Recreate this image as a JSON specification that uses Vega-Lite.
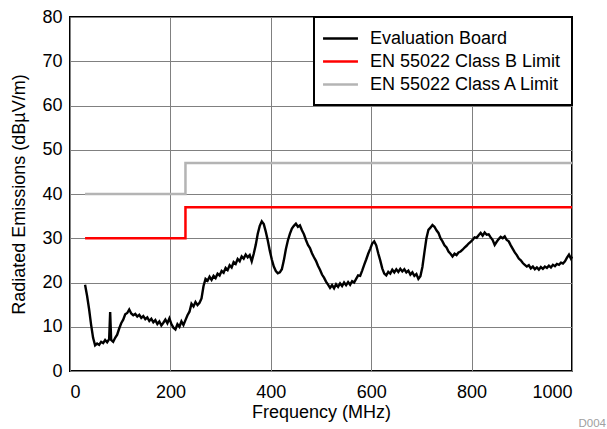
{
  "$schema": "https://vega.github.io/schema/vega-lite/v6.json",
  "width": 502,
  "height": 354,
  "autosize": {"type": "none"},
  "padding": {"left": 70, "top": 17, "right": 35, "bottom": 58},
  "background": "white",
  "config": {
    "font": "Liberation Sans",
    "view": {"stroke": "black", "strokeWidth": 2},
    "axis": {
      "labelFont": "Liberation Sans", "titleFont": "Liberation Sans",
      "labelFontSize": 18, "titleFontSize": 18, "titleFontWeight": "normal",
      "labelColor": "black", "titleColor": "black",
      "domain": false, "ticks": false,
      "gridColor": "#808080", "gridWidth": 1, "gridOpacity": 1
    },
    "legend": {"strokeWidth": 2}
  },
  "title": {"text": "D004", "orient": "bottom", "anchor": "end", "frame": "group", "fontSize": 11.5, "font": "Liberation Sans", "color": "#a0a0a0", "fontWeight": "normal", "dx": 34, "offset": -3},
  "datasets": {
    "board": [
      {"f":30,"v":19.5},{"f":34,"v":17},{"f":38,"v":14},{"f":42,"v":10.5},{"f":46,"v":7.5},{"f":50,"v":5.8},{"f":54,"v":6.2},{"f":58,"v":5.9},{"f":62,"v":6.6},{"f":66,"v":6.3},{"f":70,"v":7.0},{"f":74,"v":6.5},{"f":78,"v":7.2},{"f":80,"v":13.3},{"f":82,"v":7.0},{"f":86,"v":6.6},{"f":90,"v":7.5},{"f":94,"v":8.2},{"f":98,"v":9.6},
      {"f":102,"v":10.8},{"f":106,"v":11.6},{"f":110,"v":12.8},{"f":114,"v":13.1},{"f":118,"v":13.9},{"f":122,"v":13.0},{"f":126,"v":12.6},{"f":130,"v":12.9},{"f":134,"v":12.3},{"f":138,"v":12.7},{"f":142,"v":12.0},{"f":146,"v":12.4},{"f":150,"v":11.7},{"f":154,"v":12.1},{"f":158,"v":11.3},{"f":162,"v":11.8},{"f":166,"v":11.0},{"f":170,"v":11.5},{"f":174,"v":10.6},{"f":178,"v":11.2},{"f":182,"v":10.3},{"f":186,"v":10.9},{"f":190,"v":11.6},{"f":194,"v":10.8},{"f":198,"v":11.9},
      {"f":202,"v":10.6},{"f":206,"v":9.8},{"f":210,"v":9.4},{"f":214,"v":10.6},{"f":218,"v":10.0},{"f":222,"v":11.2},{"f":226,"v":10.4},{"f":230,"v":11.5},{"f":234,"v":12.6},{"f":238,"v":13.4},{"f":242,"v":15.2},{"f":246,"v":14.6},{"f":250,"v":15.6},{"f":254,"v":14.9},{"f":258,"v":15.4},{"f":262,"v":16.4},{"f":266,"v":19.2},{"f":270,"v":20.8},{"f":274,"v":20.4},{"f":278,"v":21.3},{"f":282,"v":20.6},{"f":286,"v":21.5},{"f":290,"v":21.0},{"f":294,"v":22.0},{"f":298,"v":21.6},
      {"f":302,"v":22.6},{"f":306,"v":22.2},{"f":310,"v":23.3},{"f":314,"v":22.8},{"f":318,"v":23.9},{"f":322,"v":23.4},{"f":326,"v":24.6},{"f":330,"v":24.2},{"f":334,"v":25.3},{"f":338,"v":24.8},{"f":342,"v":25.9},{"f":346,"v":25.4},{"f":350,"v":26.3},{"f":354,"v":25.7},{"f":358,"v":26.2},{"f":362,"v":24.8},{"f":366,"v":26.5},{"f":370,"v":28.5},{"f":374,"v":31.0},{"f":378,"v":32.8},{"f":382,"v":33.8},{"f":386,"v":33.2},{"f":390,"v":31.5},{"f":394,"v":29.5},{"f":398,"v":27.2},
      {"f":402,"v":25.2},{"f":406,"v":23.6},{"f":410,"v":22.6},{"f":414,"v":22.1},{"f":418,"v":22.3},{"f":422,"v":23.0},{"f":426,"v":25.0},{"f":430,"v":27.5},{"f":434,"v":29.5},{"f":438,"v":31.0},{"f":442,"v":32.2},{"f":446,"v":32.8},{"f":450,"v":33.3},{"f":454,"v":32.6},{"f":458,"v":32.9},{"f":462,"v":31.8},{"f":466,"v":30.9},{"f":470,"v":29.6},{"f":474,"v":28.5},{"f":478,"v":27.8},{"f":482,"v":26.6},{"f":486,"v":25.7},{"f":490,"v":24.9},{"f":494,"v":23.8},{"f":498,"v":22.9},
      {"f":502,"v":21.8},{"f":506,"v":21.1},{"f":510,"v":20.2},{"f":514,"v":19.5},{"f":518,"v":18.8},{"f":522,"v":19.4},{"f":526,"v":18.7},{"f":530,"v":19.6},{"f":534,"v":19.0},{"f":538,"v":19.8},{"f":542,"v":19.2},{"f":546,"v":20.0},{"f":550,"v":19.4},{"f":554,"v":20.1},{"f":558,"v":19.5},{"f":562,"v":20.3},{"f":566,"v":20.0},{"f":570,"v":20.8},{"f":574,"v":21.6},{"f":578,"v":21.5},{"f":582,"v":22.7},{"f":586,"v":24.0},{"f":590,"v":25.2},{"f":594,"v":26.5},{"f":598,"v":27.6},
      {"f":602,"v":28.8},{"f":606,"v":29.3},{"f":610,"v":28.4},{"f":614,"v":26.6},{"f":618,"v":25.0},{"f":622,"v":23.2},{"f":626,"v":22.0},{"f":630,"v":21.6},{"f":634,"v":22.4},{"f":638,"v":22.0},{"f":642,"v":22.9},{"f":646,"v":22.3},{"f":650,"v":23.0},{"f":654,"v":22.4},{"f":658,"v":23.1},{"f":662,"v":22.5},{"f":666,"v":23.0},{"f":670,"v":22.3},{"f":674,"v":22.7},{"f":678,"v":21.8},{"f":682,"v":22.3},{"f":686,"v":21.5},{"f":690,"v":21.9},{"f":694,"v":20.8},{"f":698,"v":21.4},
      {"f":702,"v":23.5},{"f":706,"v":26.8},{"f":710,"v":30.0},{"f":714,"v":31.9},{"f":718,"v":32.4},{"f":722,"v":33.0},{"f":726,"v":32.6},{"f":730,"v":31.8},{"f":734,"v":31.2},{"f":738,"v":30.0},{"f":742,"v":29.3},{"f":746,"v":28.4},{"f":750,"v":27.9},{"f":754,"v":27.0},{"f":758,"v":26.5},{"f":762,"v":25.9},{"f":766,"v":26.5},{"f":770,"v":26.2},{"f":774,"v":26.8},{"f":778,"v":27.0},{"f":782,"v":27.4},{"f":786,"v":27.9},{"f":790,"v":28.3},{"f":794,"v":28.8},{"f":798,"v":29.2},
      {"f":802,"v":29.6},{"f":806,"v":30.2},{"f":810,"v":30.1},{"f":814,"v":30.7},{"f":818,"v":31.2},{"f":822,"v":30.6},{"f":826,"v":31.3},{"f":830,"v":30.8},{"f":834,"v":30.9},{"f":838,"v":30.2},{"f":842,"v":29.6},{"f":846,"v":28.5},{"f":850,"v":29.2},{"f":854,"v":29.8},{"f":858,"v":30.3},{"f":862,"v":30.0},{"f":866,"v":30.4},{"f":870,"v":29.6},{"f":874,"v":29.3},{"f":878,"v":28.4},{"f":882,"v":27.6},{"f":886,"v":26.8},{"f":890,"v":26.2},{"f":894,"v":25.4},{"f":898,"v":25.0},
      {"f":902,"v":24.4},{"f":906,"v":24.0},{"f":910,"v":23.6},{"f":914,"v":23.9},{"f":918,"v":23.2},{"f":922,"v":23.6},{"f":926,"v":23.0},{"f":930,"v":23.4},{"f":934,"v":22.9},{"f":938,"v":23.5},{"f":942,"v":23.1},{"f":946,"v":23.6},{"f":950,"v":23.3},{"f":954,"v":23.8},{"f":958,"v":23.4},{"f":962,"v":24.0},{"f":966,"v":23.7},{"f":970,"v":24.2},{"f":974,"v":24.0},{"f":978,"v":24.5},{"f":982,"v":24.3},{"f":986,"v":24.8},{"f":990,"v":25.6},{"f":994,"v":26.3},{"f":998,"v":25.4},{"f":1000,"v":25.9}
    ],
    "limits": [
      {"f":30,"v":30,"s":"EN 55022 Class B Limit"},{"f":230,"v":37,"s":"EN 55022 Class B Limit"},{"f":1000,"v":37,"s":"EN 55022 Class B Limit"},
      {"f":30,"v":40,"s":"EN 55022 Class A Limit"},{"f":230,"v":47,"s":"EN 55022 Class A Limit"},{"f":1000,"v":47,"s":"EN 55022 Class A Limit"}
    ]
  },
  "encoding": {
    "x": {"field": "f", "type": "quantitative", "scale": {"domain": [0, 1000], "nice": false},
          "axis": {"values": [0, 200, 400, 600, 800, 1000], "format": "d", "title": "Frequency (MHz)", "labelPadding": 12, "titlePadding": 2}},
    "y": {"field": "v", "type": "quantitative", "scale": {"domain": [0, 80], "nice": false},
          "axis": {"values": [0, 10, 20, 30, 40, 50, 60, 70, 80], "title": "Radiated Emissions (dBµV/m)", "labelPadding": 8, "titlePadding": 13}}
  },
  "layer": [
    {
      "data": {"name": "limits"},
      "mark": {"type": "line", "interpolate": "step-after", "strokeWidth": 2.5},
      "encoding": {
        "color": {"field": "s", "type": "nominal",
          "scale": {"domain": ["Evaluation Board", "EN 55022 Class B Limit", "EN 55022 Class A Limit"], "range": ["black", "#ff0000", "#b4b4b4"]},
          "legend": {"title": null, "orient": "top-right", "offset": 0, "padding": 11, "strokeColor": "black", "fillColor": "white",
            "symbolType": "M-1.94,0H1.94", "symbolSize": 324, "symbolStrokeWidth": 2.5, "symbolOffset": 5,
            "labelFontSize": 18, "labelFont": "Liberation Sans", "labelColor": "black", "labelLimit": 0, "labelOffset": 19, "rowPadding": 3}}
      }
    },
    {
      "data": {"name": "board"},
      "mark": {"type": "line", "strokeWidth": 2.4},
      "encoding": {"color": {"datum": "Evaluation Board"}}
    }
  ]
}
